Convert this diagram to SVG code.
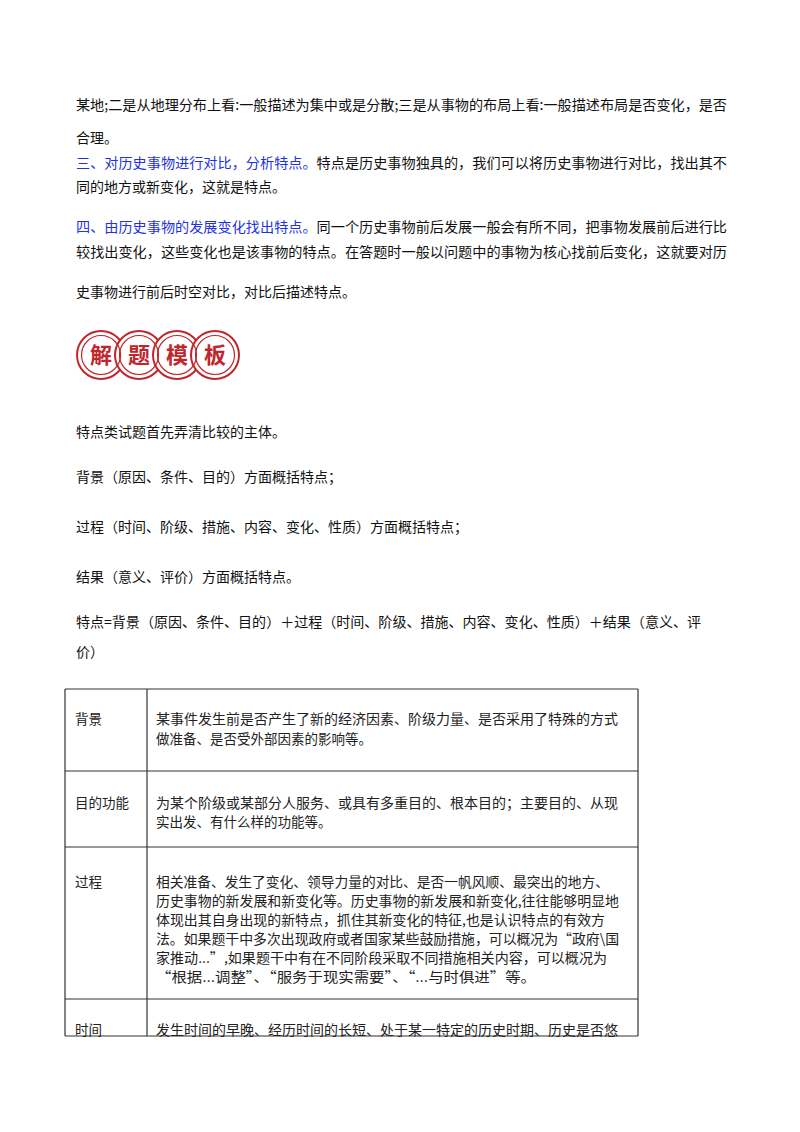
<svg xmlns="http://www.w3.org/2000/svg" width="800" height="1132" viewBox="0 0 800 1132">
<style>
text{font-family:"Noto Sans CJK SC","Liberation Sans",sans-serif;font-size:14px;fill:#111}
.b{fill:#2233dd}
.t{font-size:13.5px;fill:#222}
.logo{font-size:22px;font-weight:bold;fill:#c0262b}
</style>
<rect width="800" height="1132" fill="#fff"/>
<g id="body">
<text x="76" y="110" textLength="651" lengthAdjust="spacingAndGlyphs">某地;二是从地理分布上看:一般描述为集中或是分散;三是从事物的布局上看:一般描述布局是否变化，是否</text>
<text x="76" y="143">合理。</text>
<text x="76" y="168" textLength="651" lengthAdjust="spacingAndGlyphs"><tspan class="b">三、对历史事物进行对比，分析特点。</tspan>特点是历史事物独具的，我们可以将历史事物进行对比，找出其不</text>
<text x="76" y="192">同的地方或新变化，这就是特点。</text>
<text x="76" y="232" textLength="651" lengthAdjust="spacingAndGlyphs"><tspan class="b">四、由历史事物的发展变化找出特点。</tspan>同一个历史事物前后发展一般会有所不同，把事物发展前后进行比</text>
<text x="76" y="257" textLength="651" lengthAdjust="spacingAndGlyphs">较找出变化，这些变化也是该事物的特点。在答题时一般以问题中的事物为核心找前后变化，这就要对历</text>
<text x="76" y="297">史事物进行前后时空对比，对比后描述特点。</text>
</g>
<g id="logo">
<g fill="#fff" stroke="#c0262b" stroke-width="2">
<circle cx="101" cy="355" r="24"/><circle cx="139" cy="355" r="24"/><circle cx="177" cy="355" r="24"/><circle cx="215" cy="355" r="24"/>
</g>
<g fill="none" stroke="#c0262b" stroke-width="1.2">
<circle cx="101" cy="355" r="19.5"/><circle cx="139" cy="355" r="19.5"/><circle cx="177" cy="355" r="19.5"/><circle cx="215" cy="355" r="19.5"/>
</g>
<text class="logo" x="101" y="363" text-anchor="middle">解</text>
<text class="logo" x="139" y="363" text-anchor="middle">题</text>
<text class="logo" x="177" y="363" text-anchor="middle">模</text>
<text class="logo" x="215" y="363" text-anchor="middle">板</text>
</g>
<g id="body2">
<text x="76" y="437">特点类试题首先弄清比较的主体。</text>
<text x="76" y="482">背景（原因、条件、目的）方面概括特点；</text>
<text x="76" y="532">过程（时间、阶级、措施、内容、变化、性质）方面概括特点；</text>
<text x="76" y="582">结果（意义、评价）方面概括特点。</text>
<text x="76" y="627" textLength="625" lengthAdjust="spacingAndGlyphs">特点=背景（原因、条件、目的）＋过程（时间、阶级、措施、内容、变化、性质）＋结果（意义、评</text>
<text x="76" y="657">价）</text>
</g>
<g id="table" stroke="#333" stroke-width="1.2" fill="none">
<line x1="65" y1="689" x2="638" y2="689"/>
<line x1="65" y1="771" x2="638" y2="771"/>
<line x1="65" y1="847" x2="638" y2="847"/>
<line x1="65" y1="999" x2="638" y2="999"/>
<line x1="65" y1="1036" x2="638" y2="1036"/>
<line x1="65" y1="689" x2="65" y2="1036"/>
<line x1="147" y1="689" x2="147" y2="1036"/>
<line x1="638" y1="689" x2="638" y2="1036"/>
</g>
<g id="cells">
<text class="t" x="75" y="724">背景</text>
<text class="t" x="156" y="724" textLength="462" lengthAdjust="spacingAndGlyphs">某事件发生前是否产生了新的经济因素、阶级力量、是否采用了特殊的方式</text>
<text class="t" x="156" y="744">做准备、是否受外部因素的影响等。</text>
<text class="t" x="75" y="808">目的功能</text>
<text class="t" x="156" y="808" textLength="462" lengthAdjust="spacingAndGlyphs">为某个阶级或某部分人服务、或具有多重目的、根本目的；主要目的、从现</text>
<text class="t" x="156" y="827">实出发、有什么样的功能等。</text>
<text class="t" x="75" y="887">过程</text>
<text class="t" x="156" y="887" textLength="453" lengthAdjust="spacingAndGlyphs">相关准备、发生了变化、领导力量的对比、是否一帆风顺、最突出的地方、</text>
<text class="t" x="156" y="906" textLength="463" lengthAdjust="spacingAndGlyphs">历史事物的新发展和新变化等。历史事物的新发展和新变化,往往能够明显地</text>
<text class="t" x="156" y="925" textLength="449" lengthAdjust="spacingAndGlyphs">体现出其自身出现的新特点，抓住其新变化的特征,也是认识特点的有效方</text>
<text class="t" x="156" y="944" textLength="463" lengthAdjust="spacingAndGlyphs">法。如果题干中多次出现政府或者国家某些鼓励措施，可以概况为“政府\国</text>
<text class="t" x="156" y="963" textLength="451" lengthAdjust="spacingAndGlyphs">家推动...”,如果题干中有在不同阶段采取不同措施相关内容，可以概况为</text>
<text class="t" x="156" y="982" textLength="380" lengthAdjust="spacingAndGlyphs">“根据...调整”、“服务于现实需要”、“...与时俱进”等。</text>
<text class="t" x="75" y="1035">时间</text>
<text class="t" x="156" y="1035" textLength="462" lengthAdjust="spacingAndGlyphs">发生时间的早晚、经历时间的长短、处于某一特定的历史时期、历史是否悠</text>
</g>
</svg>
